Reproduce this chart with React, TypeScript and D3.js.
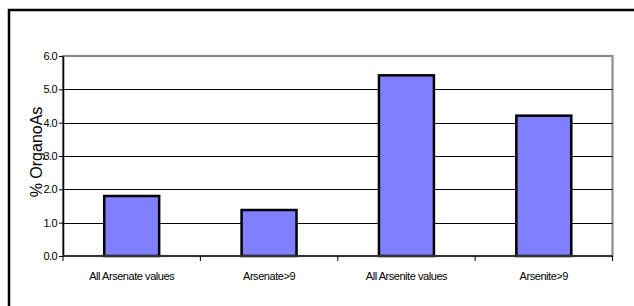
import React, { useEffect, useRef } from 'react';
import * as d3 from 'd3';

// Chart values
const categories = ['All Arsenate values', 'Arsenate>9', 'All Arsenite values', 'Arsenite>9'];
const values = [1.8, 1.38, 5.42, 4.21];
const yTicks = [0, 1, 2, 3, 4, 5, 6];
const yLabel = '% OrganoAs';

export default function App() {
  const ref = useRef<SVGSVGElement>(null);

  useEffect(() => {
    if (!ref.current) return;
    const svg = d3.select(ref.current);
    svg.selectAll('*').remove();

    const width = 634;
    const height = 306;
    const margin = { top: 56, right: 21.5, bottom: 50, left: 63 };
    const innerW = width - margin.left - margin.right;
    const innerH = height - margin.top - margin.bottom;

    // outer chart frame (runs off the right and bottom edges)
    svg.append('rect')
      .attr('x', 9)
      .attr('y', 10)
      .attr('width', 640)
      .attr('height', 320)
      .attr('fill', '#fff')
      .attr('stroke', '#000')
      .attr('stroke-width', 2.5);

    const g = svg.append('g').attr('transform', `translate(${margin.left},${margin.top})`);

    const x = d3.scaleBand<string>()
      .domain(categories)
      .range([0, innerW])
      .paddingInner(0.6)
      .paddingOuter(0.3);

    const y = d3.scaleLinear().domain([0, 6]).range([innerH, 0]);

    // plot area border
    g.append('rect')
      .attr('x', 0)
      .attr('y', 0)
      .attr('width', innerW)
      .attr('height', innerH)
      .attr('fill', 'none')
      .attr('stroke', '#8c8c8c')
      .attr('stroke-width', 2.2);

    // gridlines
    g.selectAll('line.grid')
      .data(yTicks.filter(t => t > 0 && t < 6))
      .enter()
      .append('line')
      .attr('class', 'grid')
      .attr('x1', 0)
      .attr('x2', innerW)
      .attr('y1', d => Math.round(y(d)) + 0.5)
      .attr('y2', d => Math.round(y(d)) + 0.5)
      .attr('stroke', '#000')
      .attr('stroke-width', 1);

    // bars
    g.selectAll('rect.bar')
      .data(values)
      .enter()
      .append('rect')
      .attr('class', 'bar')
      .attr('x', (d, i) => x(categories[i]) as number)
      .attr('y', d => y(d))
      .attr('width', x.bandwidth())
      .attr('height', d => innerH - y(d))
      .attr('fill', '#8080ff')
      .attr('stroke', '#000')
      .attr('stroke-width', 2.5);

    // y axis
    const yAxis = g.append('g')
      .call(d3.axisLeft(y).tickValues(yTicks).tickSize(4).tickSizeOuter(0).tickFormat(d3.format('.1f')));
    yAxis.select('.domain').attr('stroke', '#000').attr('stroke-width', 1.5);
    yAxis.selectAll('.tick line').attr('stroke', '#000');
    yAxis.selectAll('.tick text')
      .attr('x', -6)
      .attr('font-family', 'Liberation Sans, Arial, sans-serif')
      .attr('font-size', 11)
      .attr('letter-spacing', -0.6)
      .attr('fill', '#000');

    // x axis with ticks on category boundaries
    const step = innerW / categories.length;
    const xAxis = g.append('g').attr('transform', `translate(0,${innerH})`);
    xAxis.append('line')
      .attr('x1', 0)
      .attr('x2', innerW)
      .attr('y1', 0)
      .attr('y2', 0)
      .attr('stroke', '#333')
      .attr('stroke-width', 2);
    xAxis.selectAll('line.xtick')
      .data(d3.range(categories.length + 1))
      .enter()
      .append('line')
      .attr('class', 'xtick')
      .attr('x1', d => d * step)
      .attr('x2', d => d * step)
      .attr('y1', 0)
      .attr('y2', 5)
      .attr('stroke', '#000');
    xAxis.selectAll('text.xlabel')
      .data(categories)
      .enter()
      .append('text')
      .attr('class', 'xlabel')
      .attr('x', d => (x(d) as number) + x.bandwidth() / 2)
      .attr('y', 23.5)
      .attr('text-anchor', 'middle')
      .attr('font-family', 'Liberation Sans, Arial, sans-serif')
      .attr('font-size', 11)
      .attr('letter-spacing', -0.45)
      .attr('fill', '#000')
      .text(d => d);

    // y axis title
    svg.append('text')
      .attr('transform', `translate(42,${margin.top + innerH / 2 - 4}) rotate(-90)`)
      .attr('text-anchor', 'middle')
      .attr('font-family', 'Liberation Sans, Arial, sans-serif')
      .attr('font-size', 16)
      .attr('fill', '#000')
      .text(yLabel);
  }, []);

  return (
    <svg
      ref={ref}
      width={634}
      height={306}
      style={{ position: 'absolute', left: 0, top: 0, background: '#fff' }}
    />
  );
}
